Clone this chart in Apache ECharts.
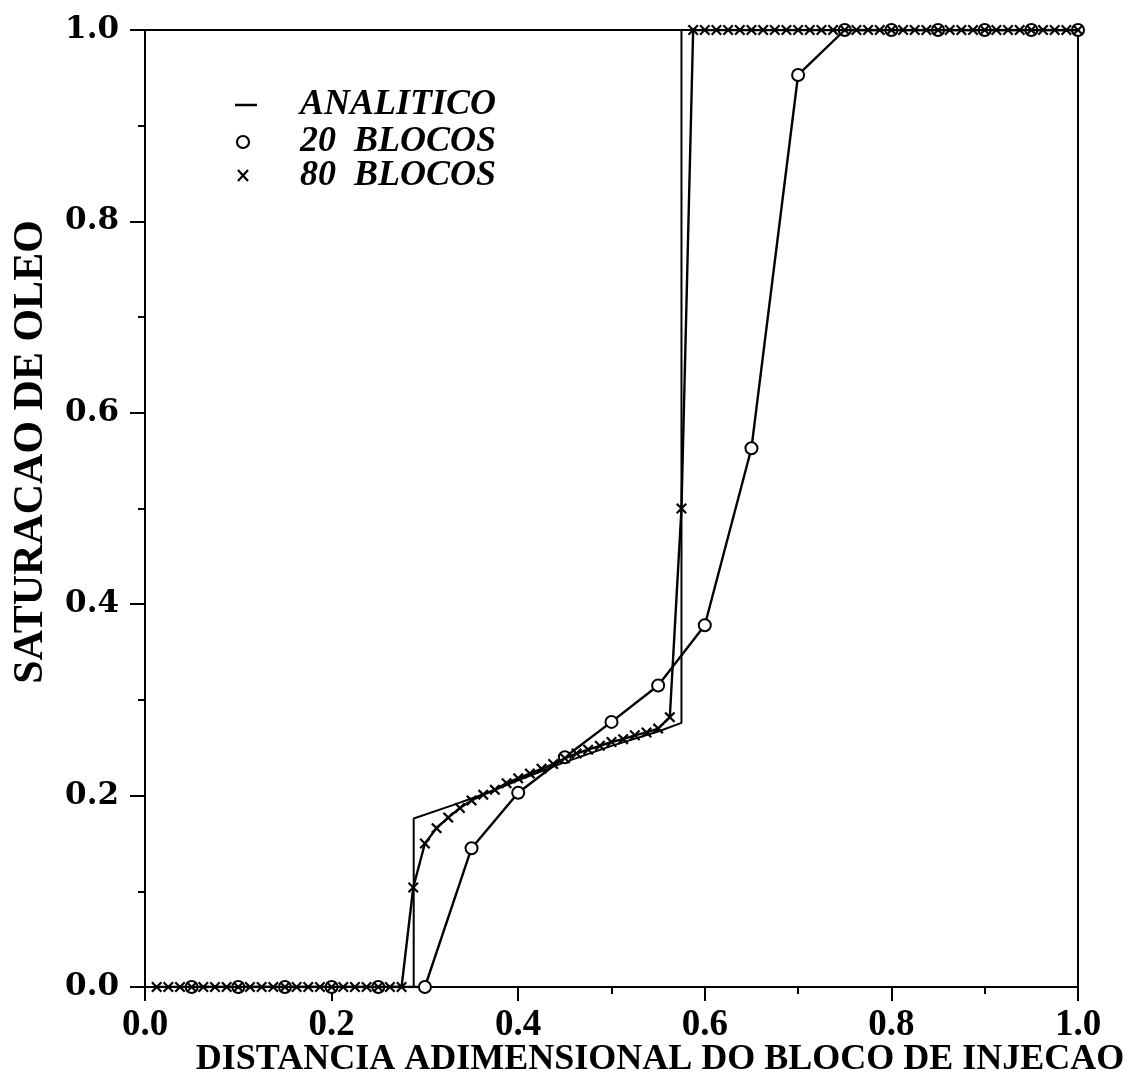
<!DOCTYPE html>
<html>
<head>
<meta charset="utf-8">
<script src="https://cdn.jsdelivr.net/npm/echarts@6/dist/echarts.min.js"></script>
<style>
html,body{margin:0;padding:0;background:#fff;}
#chart{width:1138px;height:1085px;}
</style>
</head>
<body>
<div id="chart"></div>
<script>
// ---- data ----
const xAnalitico = [0.0, 0.288, 0.288, 0.33, 0.37, 0.40, 0.45, 0.50, 0.55, 0.575, 0.575, 1.0];
const yAnalitico = [0.0, 0.0, 0.176, 0.190, 0.204, 0.216, 0.235, 0.252, 0.267, 0.276, 1.0, 1.0];

const x20 = [0.05,0.10,0.15,0.20,0.25,0.30,0.35,0.40,0.45,0.50,0.55,0.60,0.65,0.70,0.75,0.80,0.85,0.90,0.95,1.00];
const y20 = [0,0,0,0,0,0,0.145,0.203,0.240,0.277,0.315,0.378,0.563,0.953,1,1,1,1,1,1];

const x80 = [
 0.0125,0.025,0.0375,0.05,0.0625,0.075,0.0875,0.1,
 0.1125,0.125,0.1375,0.15,0.1625,0.175,0.1875,0.2,
 0.2125,0.225,0.2375,0.25,0.2625,0.275,0.2875,0.3,
 0.3125,0.325,0.3375,0.35,0.3625,0.375,0.3875,0.4,
 0.4125,0.425,0.4375,0.45,0.4625,0.475,0.4875,0.5,
 0.5125,0.525,0.5375,0.55,0.5625,0.575,0.5875,0.6,
 0.6125,0.625,0.6375,0.65,0.6625,0.675,0.6875,0.7,
 0.7125,0.725,0.7375,0.75,0.7625,0.775,0.7875,0.8,
 0.8125,0.825,0.8375,0.85,0.8625,0.875,0.8875,0.9,
 0.9125,0.925,0.9375,0.95,0.9625,0.975,0.9875,1.0];
const y80 = [
 0,0,0,0,0,0,0,0,
 0,0,0,0,0,0,0,0,
 0,0,0,0,0,0,0.104,0.150,
 0.166,0.177,0.187,0.195,0.201,0.206,0.213,0.218,
 0.223,0.228,0.233,0.239,0.244,0.248,0.252,0.256,
 0.259,0.263,0.266,0.270,0.282,0.500,1,1,
 1,1,1,1,1,1,1,1,
 1,1,1,1,1,1,1,1,
 1,1,1,1,1,1,1,1,
 1,1,1,1,1,1,1,1];

const legendNames = ['ANALITICO', '20 BLOCOS', '80 BLOCOS'];
const xTitle = 'DISTANCIA ADIMENSIONAL DO BLOCO DE INJECAO';
const yTitle = 'SATURACAO DE OLEO';

// ---- chart ----
const pair = (xs, ys) => xs.map((x, i) => [x, ys[i]]);
const XPATH = 'path://M0,1.4L1.4,0L5,3.6L8.6,0L10,1.4L6.4,5L10,8.6L8.6,10L5,6.4L1.4,10L0,8.6L3.6,5Z';

const chart = echarts.init(document.getElementById('chart'), null, {renderer: 'canvas'});
const tickFmt = v => v.toFixed(1);

chart.setOption({
  backgroundColor: '#fff',
  animation: false,
  grid: {left: 145, right: 60, top: 30, bottom: 98, show: true, borderColor: '#000', borderWidth: 2},
  xAxis: {
    type: 'value', min: 0, max: 1, interval: 0.2,
    axisLine: {show: true, onZero: false, lineStyle: {color: '#000', width: 2}},
    axisTick: {show: true, length: 14, lineStyle: {color: '#000', width: 2}},
    minorTick: {show: true, splitNumber: 2, length: 7, lineStyle: {color: '#000', width: 2}},
    splitLine: {show: false},
    axisLabel: {formatter: tickFmt, color: '#000', fontFamily: 'Liberation Serif', fontWeight: 'bold', fontSize: 37, margin: 20}
  },
  yAxis: {
    type: 'value', min: 0, max: 1, interval: 0.2,
    axisLine: {show: true, onZero: false, lineStyle: {color: '#000', width: 2}},
    axisTick: {show: true, length: 15, lineStyle: {color: '#000', width: 2}},
    minorTick: {show: true, splitNumber: 2, length: 7, lineStyle: {color: '#000', width: 2}},
    splitLine: {show: false},
    axisLabel: {formatter: tickFmt, color: '#000', fontFamily: 'DejaVu Serif', fontWeight: 'bold', fontSize: 31, margin: 26}
  },
  series: [
    {
      name: legendNames[0], type: 'line', data: pair(xAnalitico, yAnalitico),
      symbol: 'none', lineStyle: {color: '#000', width: 2}, z: 3
    },
    {
      name: legendNames[1], type: 'line', data: pair(x20, y20),
      symbol: 'emptyCircle', symbolSize: 12,
      lineStyle: {color: '#000', width: 2.4},
      itemStyle: {color: '#000', borderColor: '#000', borderWidth: 2}, z: 4
    },
    {
      name: legendNames[2], type: 'line', data: pair(x80, y80),
      symbol: XPATH, symbolSize: 11,
      lineStyle: {color: '#000', width: 2.4},
      itemStyle: {color: '#000'}, z: 5
    }
  ],
  graphic: [
    // legend
    {type: 'line', shape: {x1: 235, y1: 105, x2: 257, y2: 105}, style: {stroke: '#000', lineWidth: 2.5}},
    {type: 'circle', shape: {cx: 243, cy: 142, r: 6}, style: {fill: '#fff', stroke: '#000', lineWidth: 2.2}},
    {type: 'line', shape: {x1: 238, y1: 170, x2: 248, y2: 181}, style: {stroke: '#000', lineWidth: 2.2}},
    {type: 'line', shape: {x1: 248, y1: 170, x2: 238, y2: 181}, style: {stroke: '#000', lineWidth: 2.2}},
    {type: 'text', x: 300, y: 105, style: {text: legendNames[0], font: 'italic bold 36px "Liberation Serif"', fill: '#000', verticalAlign: 'middle'}},
    {type: 'text', x: 300, y: 142, style: {text: legendNames[1].replace(' ', '  '), font: 'italic bold 36px "Liberation Serif"', fill: '#000', verticalAlign: 'middle'}},
    {type: 'text', x: 300, y: 176, style: {text: legendNames[2].replace(' ', '  '), font: 'italic bold 36px "Liberation Serif"', fill: '#000', verticalAlign: 'middle'}},
    // axis titles
    {type: 'text', x: 660, y: 1060, style: {text: xTitle, font: 'bold 36px "Liberation Serif"', fill: '#000', align: 'center', verticalAlign: 'middle'}},
    {type: 'text', x: 31, y: 452, rotation: Math.PI / 2, style: {text: yTitle, font: 'bold 42px "Liberation Serif"', fill: '#000', align: 'center', verticalAlign: 'middle'}}
  ]
});
</script>
</body>
</html>
